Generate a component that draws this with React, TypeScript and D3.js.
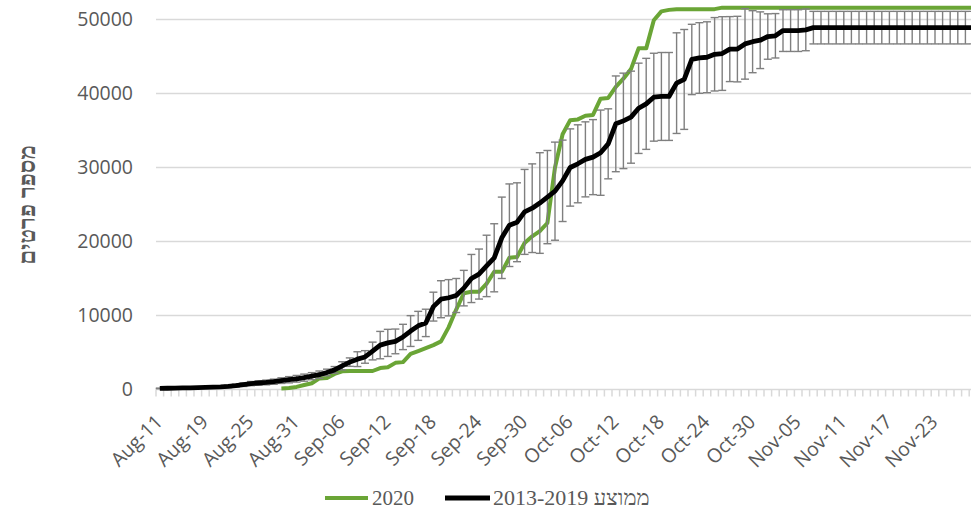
import * as d3 from 'd3';
import React from 'react';

// first days are not continuous, from Aug-19 it is daily
const earlyDays = ['Aug-11', 'Aug-13', 'Aug-14', 'Aug-15', 'Aug-17', 'Aug-18'];
const fmt = d3.timeFormat('%b-%d');
const dailyDays = d3.timeDay.range(new Date(2020, 7, 19), new Date(2020, 10, 29)).map(fmt);
const categories = [...earlyDays, ...dailyDays];

// average 2013-2019 (black) and its error (std)
const mean2013_2019 = [
  150, 170, 190, 210, 230, 250, 280, 310, 350, 420,
  520, 650, 800, 880, 950, 1050, 1200, 1320, 1450, 1600,
  1800, 2000, 2300, 2650, 3200, 3700, 4100, 4400, 5200, 6000,
  6300, 6500, 7100, 7900, 8600, 9000, 11200, 12200, 12400, 12700,
  13700, 15000, 15600, 16700, 17800, 20500, 22200, 22600, 24000, 24500,
  25200, 26000, 26800, 28200, 30000, 30500, 31100, 31400, 32000, 33200,
  35900, 36300, 36800, 38000, 38600, 39500, 39600, 39600, 41400, 41900,
  44600, 44800, 44900, 45300, 45400, 46000, 46000, 46700, 47000, 47200,
  47700, 47800, 48500, 48500, 48500, 48600, 48900, 48900, 48900, 48900,
  48900, 48900, 48900, 48900, 48900, 48900, 48900, 48900, 48900, 48900,
  48900, 48900, 48900, 48900, 48900, 48900, 48900, 48900,
];
const sd2013_2019 = [
  40, 50, 60, 70, 80, 90, 100, 120, 140, 170,
  200, 240, 280, 300, 320, 350, 380, 420, 450, 480,
  480, 500, 450, 450, 550, 570, 1000, 850, 1200, 1850,
  1830, 1670, 1710, 2080, 1960, 1850, 1950, 2500, 2450, 2300,
  2400, 3250, 3380, 4150, 4600, 5500, 5580, 5330, 5740, 5990,
  6800, 6300, 6630, 5500, 5220, 5270, 5070, 5070, 5760, 4730,
  6470, 6450, 6220, 6100, 6150, 5940, 5940, 5940, 6800, 6750,
  4750, 4770, 4790, 4960, 4980, 4390, 4430, 4760, 4190, 3830,
  3070, 3000, 2820, 2820, 2820, 2820, 2200, 2200, 2200, 2200,
  2200, 2200, 2200, 2200, 2200, 2200, 2200, 2200, 2200, 2200,
  2200, 2200, 2200, 2200, 2200, 2200, 2200, 2200,
];
// 2020 (green)
const y2020 = [
  null, null, null, null, null, null, null, null, null, null,
  null, null, null, null, null, null, 150, 200, 350, 600,
  850, 1500, 1550, 2100, 2450, 2500, 2500, 2500, 2500, 2900,
  3000, 3600, 3700, 4800, 5200, 5600, 6000, 6500, 8400, 10800,
  13000, 13200, 13200, 14300, 15900, 15900, 17800, 17900, 19800, 20700,
  21400, 22500, 30000, 34500, 36400, 36500, 37000, 37100, 39300, 39400,
  40900, 42000, 43300, 46100, 46100, 49900, 51100, 51300, 51400, 51400,
  51400, 51400, 51400, 51400, 51600, 51600, 51600, 51600, 51600, 51600,
  51600, 51600, 51600, 51600, 51600, 51600, 51600, 51600, 51600, 51600,
  51600, 51600, 51600, 51600, 51600, 51600, 51600, 51600, 51600, 51600,
  51600, 51600, 51600, 51600, 51600, 51600, 51600, 51600,
];
const yTicks = [0, 10000, 20000, 30000, 40000, 50000];
const seriesNames = ['2020', 'ממוצע 2013-2019'];
const yTitle = 'מספר פרטים';

const width = 971;
const height = 511;
const left = 156;
const step = 7.6;

const App = () => {
  const x = d3.scaleBand(categories, [left, left + step * categories.length]).padding(0);
  const cx = (i) => x(categories[i]) + x.bandwidth() / 2;
  const y = d3.scaleLinear([0, 50000], [389.5, 19.5]);

  const line = d3.line((d) => cx(d.i), (d) => y(d.v));
  const meanPts = mean2013_2019.map((v, i) => ({ i, v }));
  const greenPts = y2020.map((v, i) => ({ i, v })).filter((d) => d.v != null);

  const axisFont = '"Open Sans", sans-serif';
  const textColor = '#595959';

  return (
    <svg width={width} height={height} style={{ position: 'absolute', left: 0, top: 0, background: '#fff' }}>
      {/* grid */}
      <g stroke="#d9d9d9" strokeWidth="1.5">
        {yTicks.map((t) => (
          <line key={t} x1={left} x2={width} y1={y(t)} y2={y(t)} />
        ))}
        {categories.map((c, i) => (
          <line key={c} x1={x(c)} x2={x(c)} y1={y(0)} y2={y(0) + 7} />
        ))}
      </g>
      <g fill={textColor} fontFamily={axisFont} fontSize="19.5" textAnchor="end">
        {yTicks.map((t) => (
          <text key={t} x={133} y={y(t)} dy="0.35em">
            {t}
          </text>
        ))}
        {categories.map((c, i) =>
          i % 6 === 0 ? (
            <text key={c} transform={`translate(${cx(i) + 4},${423}) rotate(-45)`}>
              {c}
            </text>
          ) : null
        )}
      </g>
      <text
        transform="translate(27,205) rotate(-90)"
        textAnchor="middle"
        dy="0.35em"
        fontFamily='"Liberation Serif", serif'
        fontWeight="bold"
        fontSize="24"
        fill={textColor}
      >
        {yTitle}
      </text>

      {/* 2020 */}
      <path d={line(greenPts)} fill="none" stroke="#6aa536" strokeWidth="4" strokeLinejoin="round" />
      {/* error bars */}
      <g stroke="#7f7f7f" strokeWidth="1.4">
        {mean2013_2019.map((m, i) => {
          const x0 = cx(i);
          const y1 = y(m + sd2013_2019[i]);
          const y2 = y(m - sd2013_2019[i]);
          return (
            <g key={i}>
              <line x1={x0} x2={x0} y1={y1} y2={y2} />
              <line x1={x0 - 4} x2={x0 + 4} y1={y1} y2={y1} />
              <line x1={x0 - 4} x2={x0 + 4} y1={y2} y2={y2} />
            </g>
          );
        })}
      </g>
      <path d={line(meanPts)} fill="none" stroke="#000" strokeWidth="4.8" strokeLinejoin="round" />

      {/* legend */}
      <g fontFamily='"Liberation Serif", serif' fontSize="21" fill={textColor}>
        <line x1={325} x2={368} y1={498} y2={498} stroke="#6aa536" strokeWidth="4" />
        <text x={372} y={505}>{seriesNames[0]}</text>
        <line x1={445} x2={490} y1={498} y2={498} stroke="#000" strokeWidth="4.8" />
        <text x={493} y={505} fontSize="22">{seriesNames[1]}</text>
      </g>
    </svg>
  );
};

export default App;
